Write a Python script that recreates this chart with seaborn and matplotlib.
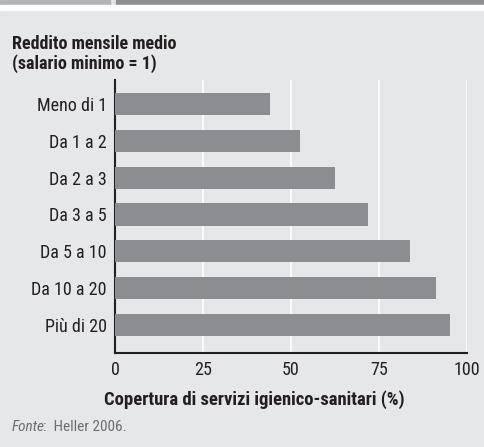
import matplotlib
matplotlib.use("Agg")
import matplotlib.pyplot as plt
import seaborn as sns
import pandas as pd
from matplotlib.patches import Rectangle

# data
categorie = ["Meno di 1", "Da 1 a 2", "Da 2 a 3", "Da 3 a 5",
             "Da 5 a 10", "Da 10 a 20", "Più di 20"]
copertura = [44, 52.6, 62.5, 71.9, 83.8, 91.2, 95.2]
xticks = [0, 25, 50, 75, 100]

df = pd.DataFrame({"categoria": categorie, "copertura": copertura})

bg = "#e6e7e9"
bar_col = "#8c8d91"
dark = "#231f20"

sns.set_style("white")
plt.rcParams["font.family"] = ["Roboto Condensed", "Liberation Sans Narrow", "Roboto", "DejaVu Sans"]

fig = plt.figure(figsize=(4.85, 4.47), dpi=100, facecolor=bg)
W, H = 485, 447
ax = fig.add_axes([115 / W, 1 - 353 / H, 352 / W, 273 / H])
ax.set_facecolor(bg)

sns.barplot(data=df, x="copertura", y="categoria", color=bar_col,
            saturation=1, width=0.6, ax=ax, zorder=3, edgecolor=bar_col,
            linewidth=0)

ax.set_xlim(0, 100)
ax.set_ylim(6.76, -0.65)
ax.set_xticks(xticks)
ax.set_xticklabels([str(t) for t in xticks], fontsize=13)
ax.tick_params(axis="y", labelsize=13, length=0, pad=6, colors=dark)
ax.tick_params(axis="x", length=0, pad=6, colors=dark)
ax.xaxis.grid(True, color="white", linewidth=1.2, zorder=0)
ax.set_axisbelow(True)

for s in ["top", "right"]:
    ax.spines[s].set_visible(False)
for s in ["left", "bottom"]:
    ax.spines[s].set_color(dark)
    ax.spines[s].set_linewidth(1.5)

ax.set_ylabel("")
ax.set_xlabel("Copertura di servizi igienico-sanitari (%)", fontsize=13.4,
              fontweight="bold", color=dark)
ax.xaxis.set_label_coords((254 - 115) / 352, (353 - 400) / 273)
ax.xaxis.label.set_va("center")

fig.text(12 / W, 1 - 54 / H, "Reddito mensile medio\n(salario minimo = 1)",
         fontsize=13, fontweight="bold", color=dark, va="center",
         ha="left", linespacing=1.1)

fig.text(12 / W, 1 - 427 / H, "Fonte", fontsize=11, style="italic",
         color="#6d6e71", va="center", ha="left")
fig.text(43.5 / W, 1 - 427 / H, ":  Heller 2006.", fontsize=11,
         color="#6d6e71", va="center", ha="left")

# header band at top
fig.patches.append(Rectangle((0, 1 - 5 / H), 110 / W, 5 / H,
                             transform=fig.transFigure, color="#b3b4b8"))
fig.patches.append(Rectangle((116 / W, 1 - 5 / H), 1 - 116 / W, 5 / H,
                             transform=fig.transFigure, color="#8e8f93"))
fig.patches.append(Rectangle((0, 1 - 10 / H), 1, 5 / H,
                             transform=fig.transFigure, color="white"))

fig.savefig("out.png", dpi=100, facecolor=bg)
